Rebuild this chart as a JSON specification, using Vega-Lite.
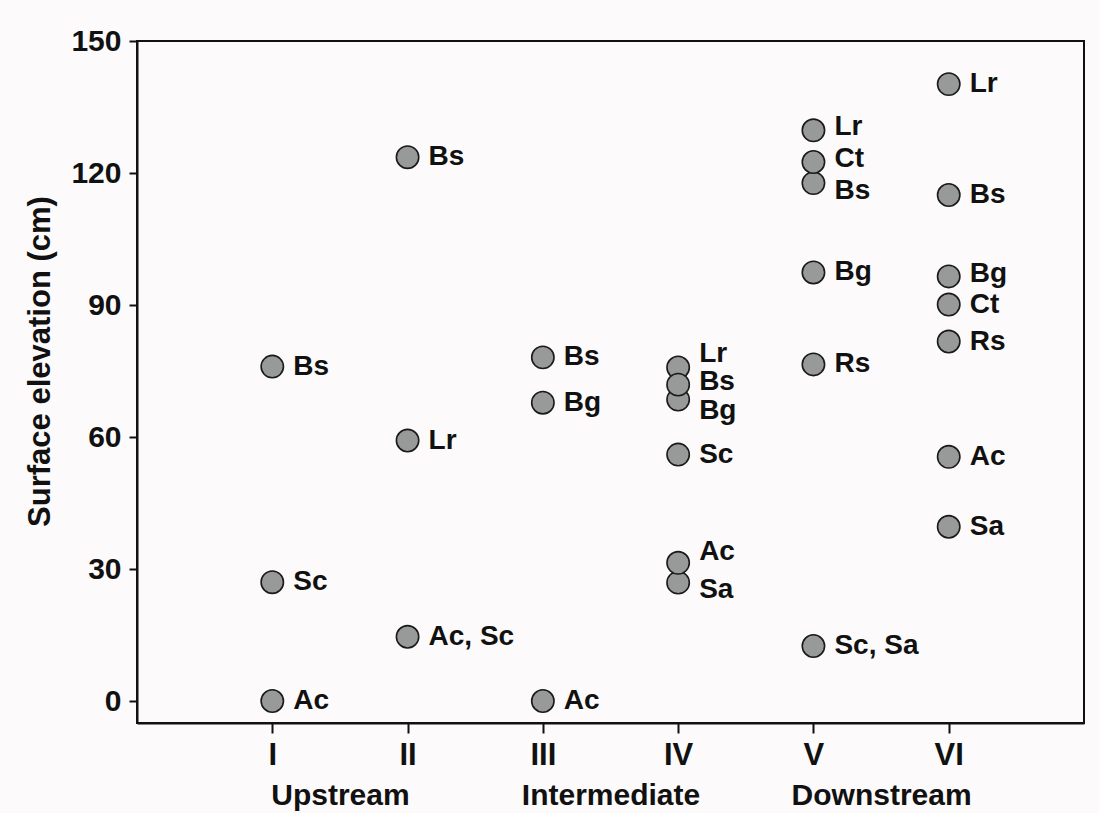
{
  "$schema": "https://vega.github.io/schema/vega-lite/v6.json",
  "autosize": {"type": "none"},
  "padding": {"left": 137, "top": 41, "right": 15, "bottom": 90},
  "width": 947,
  "height": 682,
  "background": "#fcfafa",
  "config": {
    "view": {"stroke": "#111111", "strokeWidth": 2},
    "font": "Liberation Sans",
    "axis": {"labelFont": "Liberation Sans", "titleFont": "Liberation Sans", "labelFontWeight": "bold", "titleFontWeight": "bold", "labelColor": "#111111", "titleColor": "#111111", "domainColor": "#111111", "tickColor": "#111111", "grid": false, "labelLimit": 0}
  },
  "data": {
    "values": [
      {"site": 1, "elev": 76, "label_y": 76, "sp": "Bs"},
      {"site": 1, "elev": 27, "label_y": 27, "sp": "Sc"},
      {"site": 1, "elev": 0, "label_y": 0, "sp": "Ac"},
      {"site": 2, "elev": 123.6, "label_y": 123.6, "sp": "Bs"},
      {"site": 2, "elev": 59.2, "label_y": 59.2, "sp": "Lr"},
      {"site": 2, "elev": 14.6, "label_y": 14.6, "sp": "Ac, Sc"},
      {"site": 3, "elev": 78.1, "label_y": 78.1, "sp": "Bs"},
      {"site": 3, "elev": 67.8, "label_y": 67.8, "sp": "Bg"},
      {"site": 3, "elev": 0, "label_y": 0, "sp": "Ac"},
      {"site": 4, "elev": 75.8, "label_y": 78.9, "sp": "Lr"},
      {"site": 4, "elev": 68.5, "label_y": 65.8, "sp": "Bg"},
      {"site": 4, "elev": 71.9, "label_y": 72.4, "sp": "Bs"},
      {"site": 4, "elev": 56, "label_y": 56, "sp": "Sc"},
      {"site": 4, "elev": 26.9, "label_y": 25.3, "sp": "Sa"},
      {"site": 4, "elev": 31.4, "label_y": 33.9, "sp": "Ac"},
      {"site": 5, "elev": 129.7, "label_y": 130.4, "sp": "Lr"},
      {"site": 5, "elev": 117.7, "label_y": 115.9, "sp": "Bs"},
      {"site": 5, "elev": 122.5, "label_y": 123.1, "sp": "Ct"},
      {"site": 5, "elev": 97.4, "label_y": 97.4, "sp": "Bg"},
      {"site": 5, "elev": 76.5, "label_y": 76.5, "sp": "Rs"},
      {"site": 5, "elev": 12.5, "label_y": 12.5, "sp": "Sc, Sa"},
      {"site": 6, "elev": 140.2, "label_y": 140.2, "sp": "Lr"},
      {"site": 6, "elev": 115, "label_y": 115, "sp": "Bs"},
      {"site": 6, "elev": 96.5, "label_y": 97, "sp": "Bg"},
      {"site": 6, "elev": 90.1, "label_y": 90, "sp": "Ct"},
      {"site": 6, "elev": 81.7, "label_y": 81.5, "sp": "Rs"},
      {"site": 6, "elev": 55.5, "label_y": 55.5, "sp": "Ac"},
      {"site": 6, "elev": 39.6, "label_y": 39.6, "sp": "Sa"}
    ]
  },
  "layer": [
    {
      "mark": {"type": "point", "shape": "circle", "filled": true, "size": 500, "fill": "#979a99", "stroke": "#1a1a1a", "strokeWidth": 1.6, "opacity": 1},
      "encoding": {
        "x": {"field": "site", "type": "quantitative", "scale": {"domain": [0, 7], "nice": false, "zero": false},
          "axis": {"orient": "bottom", "values": [1, 2, 3, 4, 5, 6], "labelExpr": "['','I','II','III','IV','V','VI'][datum.value]", "title": null, "labelFontSize": 31, "tickSize": 10, "tickWidth": 2, "domainWidth": 2, "labelPadding": 7, "domain": true}},
        "y": {"field": "elev", "type": "quantitative", "scale": {"domain": [-5, 150], "nice": false, "zero": false},
          "axis": {"values": [0, 30, 60, 90, 120, 150], "title": "Surface elevation (cm)", "titleFontSize": 31, "labelFontSize": 30, "tickSize": 8, "tickWidth": 2, "domainWidth": 2, "labelPadding": 8, "titlePadding": 14, "titleY": 320}}
      }
    },
    {
      "mark": {"type": "text", "align": "left", "baseline": "middle", "dx": 21, "fontSize": 28, "fontWeight": "bold", "color": "#111111", "font": "Liberation Sans"},
      "encoding": {
        "x": {"field": "site", "type": "quantitative",
          "axis": {"orient": "bottom", "values": [1.5, 3.5, 5.5], "labelExpr": "datum.value == 1.5 ? 'Upstream' : datum.value == 3.5 ? 'Intermediate' : 'Downstream'", "title": null, "labelFontSize": 30, "ticks": false, "domain": false, "labelPadding": 57}},
        "y": {"field": "label_y", "type": "quantitative"},
        "text": {"field": "sp"}
      }
    }
  ],
  "resolve": {"axis": {"x": "independent"}}
}
